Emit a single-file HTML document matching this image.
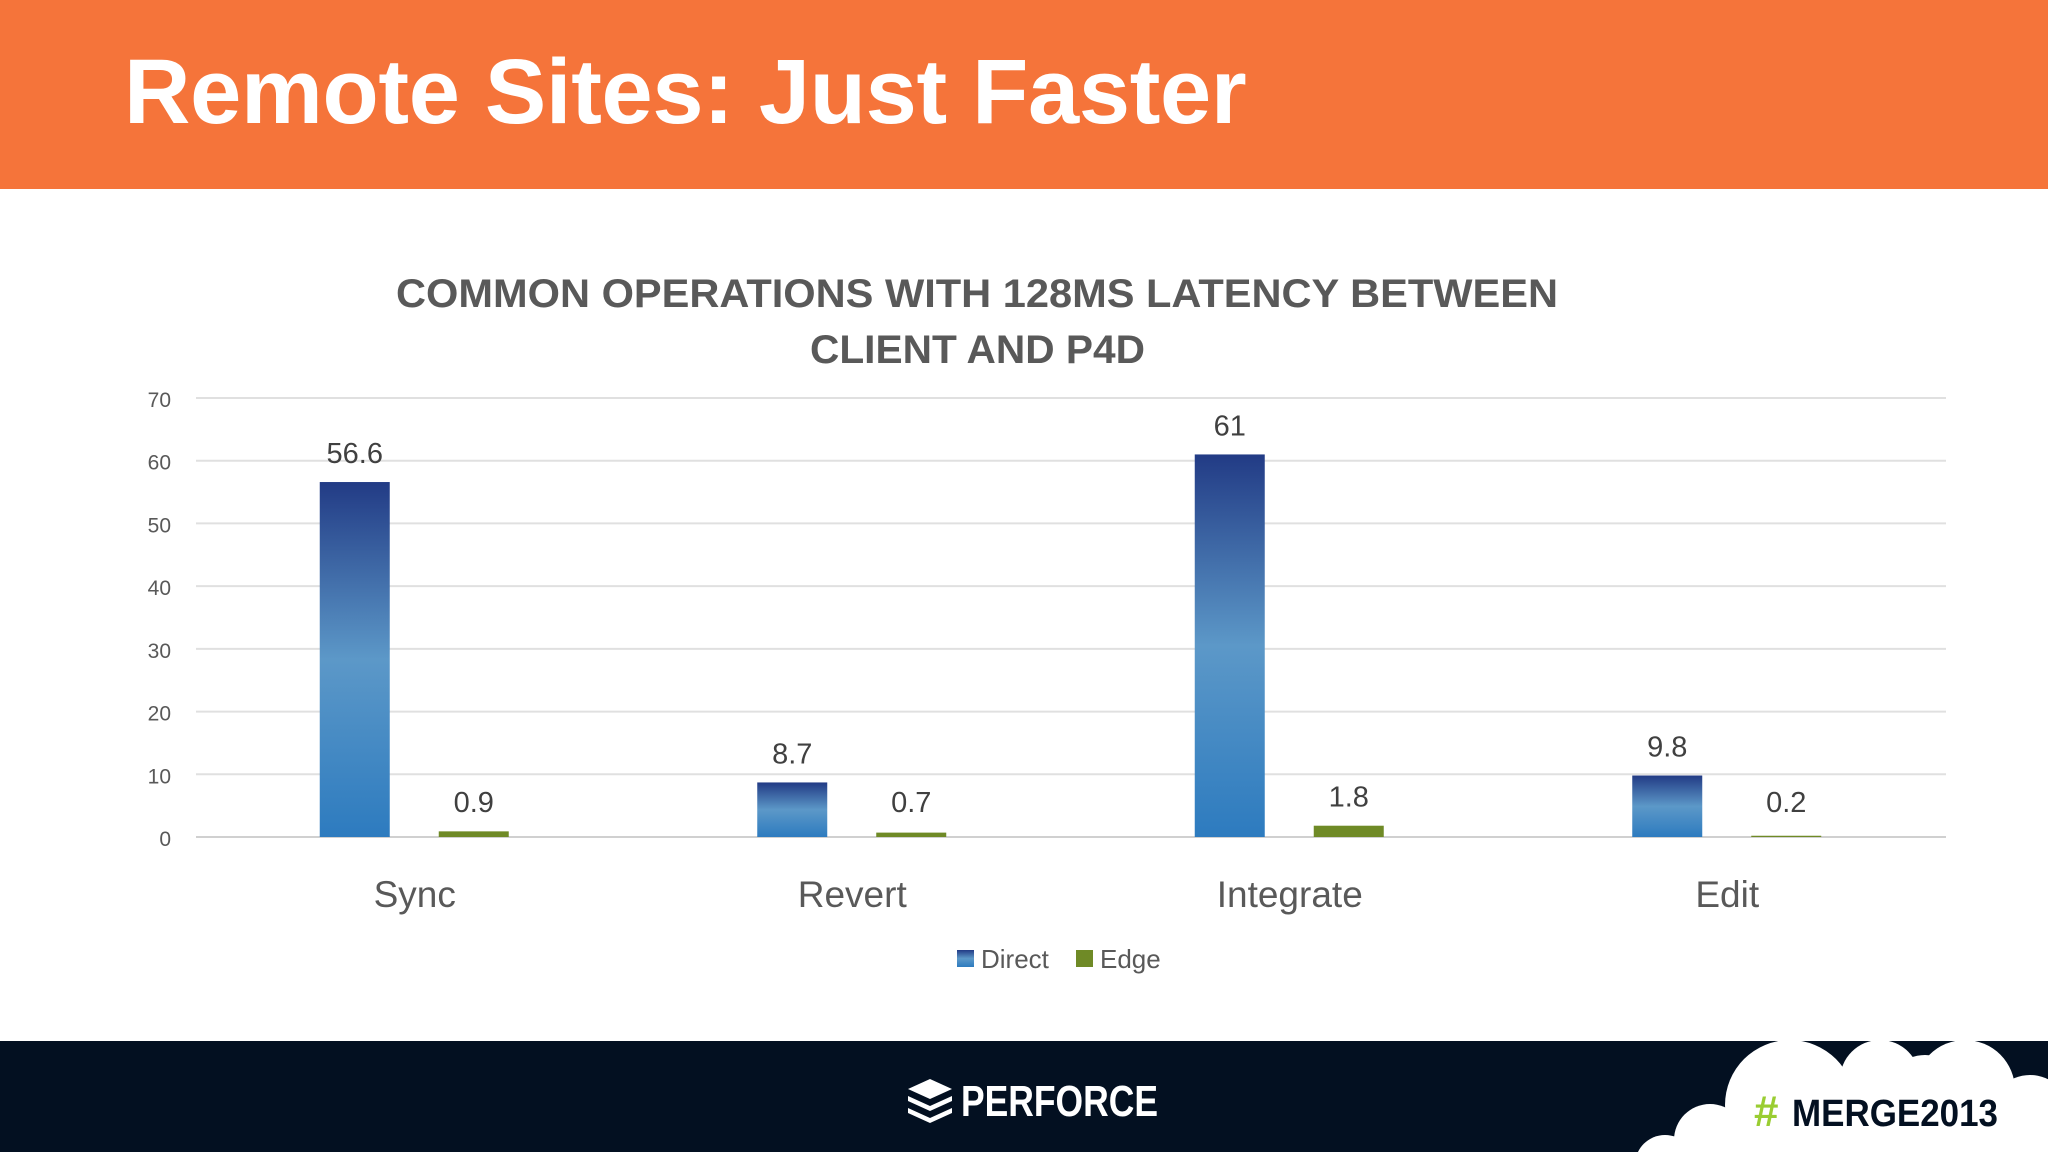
<!DOCTYPE html>
<html><head><meta charset="utf-8"><style>
body{margin:0;width:2048px;height:1152px;overflow:hidden;background:#fff;font-family:"Liberation Sans",sans-serif}
#hdr{position:absolute;left:0;top:0;width:2048px;height:189px;background:#f5743a}
#ttl{position:absolute;left:124px;top:40px;font:bold 92px "Liberation Sans",sans-serif;color:#fff;letter-spacing:-0.3px}
#ftr{position:absolute;left:0;top:1041px;width:2048px;height:111px;background:#031021}
</style></head><body>
<div id="hdr"></div>
<div id="ttl">Remote Sites: Just Faster</div>
<div id="ftr"></div>
<svg id="chart" width="2048" height="1152" style="position:absolute;left:0;top:0">
<defs><linearGradient id="bg" x1="0" y1="0" x2="0" y2="1">
<stop offset="0" stop-color="#223b85"/><stop offset="0.5" stop-color="#5c98c8"/><stop offset="1" stop-color="#2d7bbf"/></linearGradient></defs>
<g font-family="'Liberation Sans',sans-serif" font-weight="bold" font-size="40" fill="#595959">
<text x="396" y="307" textLength="1162" lengthAdjust="spacingAndGlyphs">COMMON OPERATIONS WITH 128MS LATENCY BETWEEN</text>
<text x="810" y="363" textLength="335" lengthAdjust="spacingAndGlyphs">CLIENT AND P4D</text>
</g>
<g id="grid"></g><g id="bars"></g>
<g font-size="26" fill="#595959">
<rect x="957" y="950" width="17" height="17" fill="url(#bg)"/>
<text x="981" y="968">Direct</text>
<rect x="1076" y="950" width="17" height="17" fill="#6f8a26"/>
<text x="1100" y="968">Edge</text>
</g>
<g>
<path d="M930 1079 L952 1089 L930 1099 L908 1089Z" fill="#fff"/>
<path d="M908 1096 L930 1106 L952 1096 L952 1101 L930 1111 L908 1101Z" fill="#fff"/>
<path d="M908 1108 L930 1118 L952 1108 L952 1113 L930 1123 L908 1113Z" fill="#fff"/>
<text x="961" y="1116" font-size="44" font-weight="bold" fill="#fff" textLength="197" lengthAdjust="spacingAndGlyphs">PERFORCE</text>
</g>
<g fill="#fff">
<circle cx="1790" cy="1105" r="65"/><circle cx="1880" cy="1080" r="40"/><circle cx="1925" cy="1095" r="40"/>
<circle cx="1965" cy="1090" r="50"/><circle cx="2030" cy="1115" r="40"/><circle cx="1710" cy="1140" r="36"/>
<circle cx="1665" cy="1165" r="30"/>
<rect x="1700" y="1110" width="348" height="42"/>
<text x="1754" y="1126" font-size="44" font-weight="bold" fill="#9acd32">#</text>
<text x="1792" y="1126" font-size="38" font-weight="bold" fill="#031021" textLength="206" lengthAdjust="spacingAndGlyphs">MERGE2013</text>
</g>
</svg>
<script>
const categories=["Sync","Revert","Integrate","Edit"];
const direct=[56.6,8.7,61,9.8];
const edge=[0.9,0.7,1.8,0.2];
const directLabels=["56.6","8.7","61","9.8"];
const edgeLabels=["0.9","0.7","1.8","0.2"];
const ticks=[0,10,20,30,40,50,60,70];
const NS="http://www.w3.org/2000/svg";
const x0=196,x1=1946,yB=837,yT=398,vmax=70;
function y(v){return yB-(yB-yT)*v/vmax}
function cx(i){return x0+(x1-x0)/categories.length*(i+0.5)}
function mk(t,a,p,txt){const e=document.createElementNS(NS,t);for(const k in a)e.setAttribute(k,a[k]);if(txt!==undefined)e.textContent=txt;p.appendChild(e);return e}
const G=document.getElementById('grid'),B=document.getElementById('bars');
ticks.forEach(t=>{
 const l=mk('line',{x1:x0,x2:x1,y1:y(t),y2:y(t),stroke:t==0?'#d0d0d0':'#e0e0e0','stroke-width':2},G);
 
 
 const tx=mk('text',{x:171,y:y(t)+9,'text-anchor':'end','font-size':21,fill:'#595959','font-family':'Liberation Sans,sans-serif'},G,String(t));
 
 
});
categories.forEach((c,i)=>{
 const c0=cx(i);
 const r1=mk('rect',{x:c0-95,y:y(direct[i]),width:70,height:yB-y(direct[i]),fill:'url(#bg)'},B);
 
 
 const r2=mk('rect',{x:c0+24,y:y(edge[i]),width:70,height:yB-y(edge[i]),fill:'#6f8a26'},B);
 
 
 const t1=mk('text',{x:c0-60,y:y(direct[i])-19,'text-anchor':'middle','font-size':29,fill:'#404040'},B,directLabels[i]);
 
 
 const t2=mk('text',{x:c0+59,y:Math.min(y(edge[i]),yB-6)-19,'text-anchor':'middle','font-size':29,fill:'#404040'},B,edgeLabels[i]);
 
 
 const cl=mk('text',{x:c0,y:907,'text-anchor':'middle','font-size':37,fill:'#595959'},B,c);
 
 
});
</script>
</body></html>
